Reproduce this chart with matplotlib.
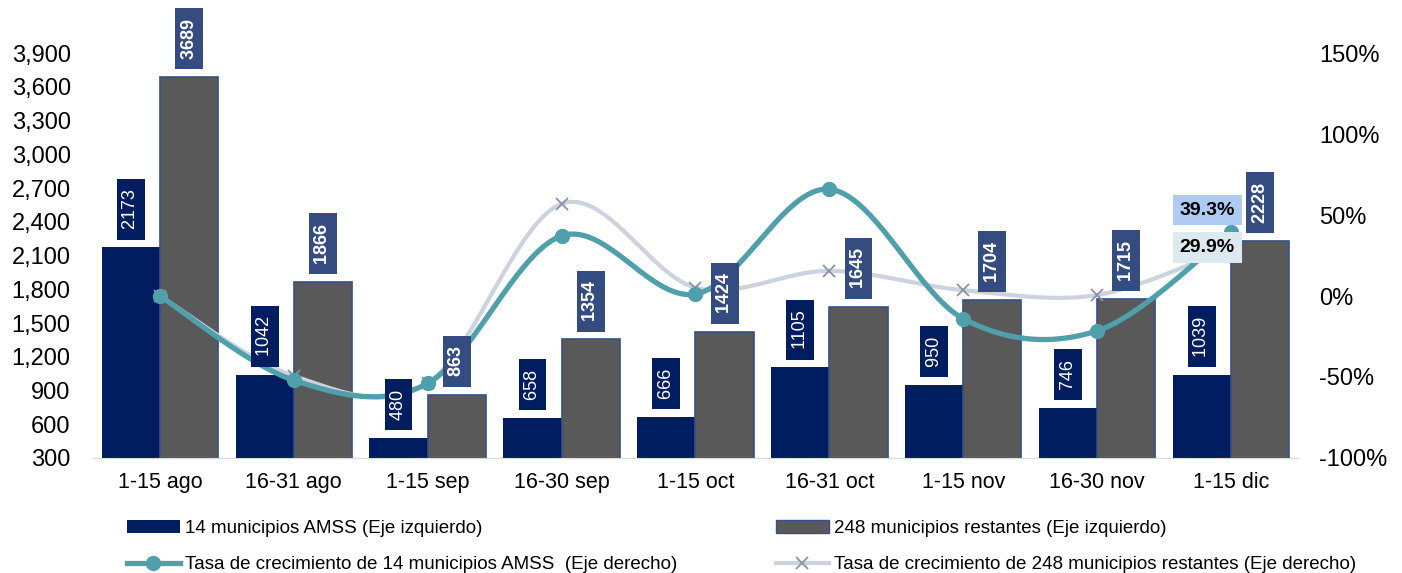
import matplotlib.pyplot as plt
import matplotlib.ticker as mticker
import numpy as np
from matplotlib.lines import Line2D
from matplotlib.patches import Patch

plt.rcParams['font.family'] = ['Liberation Sans', 'DejaVu Sans']

periodos = ['1-15 ago', '16-31 ago', '1-15 sep', '16-30 sep', '1-15 oct',
            '16-31 oct', '1-15 nov', '16-30 nov', '1-15 dic']
amss = [2173, 1042, 480, 658, 666, 1105, 950, 746, 1039]
restantes = [3689, 1866, 863, 1354, 1424, 1645, 1704, 1715, 2228]
# tasas de crecimiento en %
tasa_amss = [0.0, -52.0, -53.9, 37.1, 1.2, 65.9, -14.0, -21.5, 39.3]
tasa_rest = [0.0, -49.4, -53.8, 56.9, 5.2, 15.5, 3.6, 0.6, 29.9]

lbl_amss = '14 municipios AMSS (Eje izquierdo)'
lbl_rest = '248 municipios restantes (Eje izquierdo)'
lbl_tasa_amss = 'Tasa de crecimiento de 14 municipios AMSS  (Eje derecho)'
lbl_tasa_rest = 'Tasa de crecimiento de 248 municipios restantes (Eje derecho)'

navy = '#001e5f'
gris = '#595959'
borde = '#34508a'
caja_gris = '#354c81'
teal = '#4fa0aa'
claro = '#cdd2df'
cruz = '#8992aa'


def smooth(x, y, n=40):
    # curva suavizada tipo Excel (Catmull-Rom / Bezier)
    p = np.column_stack([x, y]).astype(float)
    p = np.vstack([p[0], p, p[-1]])
    out = []
    t = np.linspace(0, 1, n)[:, None]
    for i in range(1, len(p) - 2):
        p0, p1, p2, p3 = p[i - 1], p[i], p[i + 1], p[i + 2]
        c1 = p1 + (p2 - p0) / 6
        c2 = p2 - (p3 - p1) / 6
        seg = ((1 - t) ** 3) * p1 + 3 * ((1 - t) ** 2) * t * c1 + 3 * (1 - t) * t ** 2 * c2 + t ** 3 * p2
        out.append(seg if i == 1 else seg[1:])
    out = np.vstack(out)
    return out[:, 0], out[:, 1]


fig = plt.figure(figsize=(14.02, 5.73), dpi=100)
ax = fig.add_axes([0.0663, 0.2007, 0.8595, 0.7068])
ax2 = ax.twinx()

x = np.arange(len(periodos))
w = 0.435
ax.bar(x - w / 2, amss, width=w, color=navy, zorder=2)
ax.bar(x + w / 2, restantes, width=w, color=gris, edgecolor=borde, linewidth=1.2, zorder=2)

ax.set_xlim(-0.5, len(periodos) - 0.5)
ax.set_ylim(300, 3900)
ax.set_yticks(np.arange(300, 3901, 300))
ax.yaxis.set_major_formatter(mticker.FuncFormatter(lambda v, p: f'{v:,.0f}'))
ax.set_xticks(x)
ax.set_xticklabels(periodos, fontsize=15.5)
ax.tick_params(axis='y', labelsize=17, length=0, pad=16)
ax.tick_params(axis='x', length=0, pad=10)
for s in ['top', 'left', 'right']:
    ax.spines[s].set_visible(False)
ax.spines['bottom'].set_color('#d9d9d9')

ax2.set_ylim(-100, 150)
ax2.set_yticks(np.arange(-100, 151, 50))
ax2.yaxis.set_major_formatter(mticker.FuncFormatter(lambda v, p: f'{v:.0f}%'))
ax2.tick_params(axis='y', labelsize=17, length=0, pad=15)
for s in ['top', 'left', 'right', 'bottom']:
    ax2.spines[s].set_visible(False)

sx, sy = smooth(x, tasa_rest)
ax2.plot(sx, sy, color=claro, lw=3, zorder=3, solid_capstyle='round')
ax2.plot(x, tasa_rest, ls='none', marker='x', ms=9, mew=1.3, color=cruz, zorder=3)
sx, sy = smooth(x, tasa_amss)
ax2.plot(sx, sy, color=teal, lw=3.8, zorder=4, solid_capstyle='round')
ax2.plot(x, tasa_amss, ls='none', marker='o', ms=10, color=teal, zorder=4)

# etiquetas de barras
for i in range(len(periodos)):
    ax2.annotate(f' {amss[i]} ', xy=(x[i] - w / 2, amss[i]), xycoords=ax.transData,
                 xytext=(0, 9.5), textcoords='offset points', rotation=90,
                 ha='center', va='bottom', fontsize=13, color='white', zorder=6,
                 bbox=dict(boxstyle='square,pad=0.3', fc=navy, ec='none'))
    ax2.annotate(f' {restantes[i]} ', xy=(x[i] + w / 2, restantes[i]), xycoords=ax.transData,
                 xytext=(0, 9.5), textcoords='offset points', rotation=90,
                 ha='center', va='bottom', fontsize=13, color='white', fontweight='bold',
                 zorder=6, bbox=dict(boxstyle='square,pad=0.3', fc=caja_gris, ec='none'))

# etiquetas del ultimo punto
ax2.annotate(f'{tasa_amss[-1]:.1f}%', xy=(x[-1], tasa_amss[-1]), xytext=(-17, 16),
             textcoords='offset points', ha='center', va='center', fontsize=14,
             fontweight='bold', zorder=7,
             bbox=dict(boxstyle='square,pad=0.35', fc='#aecbf4', ec='none'))
ax2.annotate(f'{tasa_rest[-1]:.1f}%', xy=(x[-1], tasa_rest[-1]), xytext=(-17, 0),
             textcoords='offset points', ha='center', va='center', fontsize=14,
             fontweight='bold', zorder=7,
             bbox=dict(boxstyle='square,pad=0.35', fc='#dce9ee', ec='none'))

handles = [Patch(facecolor=navy),
           Line2D([], [], color=teal, lw=3.8, marker='o', ms=10),
           Patch(facecolor=gris, edgecolor=borde),
           Line2D([], [], color=claro, lw=3, marker='x', ms=9, mew=1.3, mec=cruz)]
labels = [lbl_amss, lbl_tasa_amss, lbl_rest, lbl_tasa_rest]
fig.legend(handles, labels, ncol=2, loc='upper left', bbox_to_anchor=(0.0906, 0.0925),
           frameon=False, fontsize=13.5, handlelength=2.8, handletextpad=0.27,
           columnspacing=5.3, labelspacing=1.02, borderaxespad=0, borderpad=0)

fig.savefig('out.png', dpi=100)
